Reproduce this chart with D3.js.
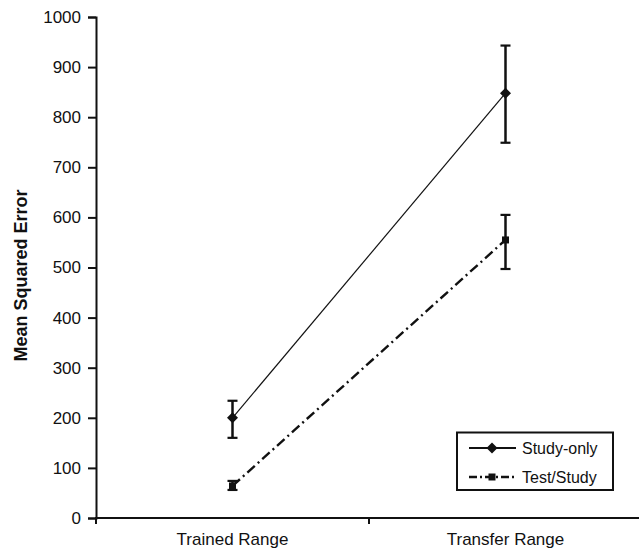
<!DOCTYPE html>
<html>
<head>
<meta charset="utf-8">
<script src="https://cdn.jsdelivr.net/npm/d3@7"></script>
<style>
  html, body { margin: 0; padding: 0; background: #fff; }
  svg { display: block; font-family: "Liberation Sans", Arial, sans-serif; }
</style>
</head>
<body>
<svg id="chart" width="639" height="549"></svg>
<script>
const categories = ["Trained Range", "Transfer Range"];
const seriesNames = ["Study-only", "Test/Study"];
const studyOnlyMean = [200, 848];
const studyOnlyLow = [160, 749];
const studyOnlyHigh = [234, 943];
const testStudyMean = [64, 555];
const testStudyLow = [56, 497];
const testStudyHigh = [74, 605];
const yTicks = [0, 100, 200, 300, 400, 500, 600, 700, 800, 900, 1000];

const series = [
  { name: seriesNames[0], mean: studyOnlyMean, low: studyOnlyLow, high: studyOnlyHigh,
    width: 1.2, dash: null, marker: "diamond" },
  { name: seriesNames[1], mean: testStudyMean, low: testStudyLow, high: testStudyHigh,
    width: 2.4, dash: "10,4,2,4", marker: "square" }
];

const svg = d3.select("#chart");
const x0 = 96, xEnd = 642, yTop = 17, yBottom = 518;

const x = d3.scaleBand().domain(categories).range([x0, xEnd]).paddingInner(0).paddingOuter(0);
const y = d3.scaleLinear().domain([0, 1000]).range([yBottom, yTop]);
const cx = c => x(c) + x.bandwidth() / 2;

// Y axis
const yAxis = d3.axisLeft(y).tickValues(yTicks).tickSize(8).tickPadding(7).tickFormat(d3.format("d"));
const gy = svg.append("g").attr("transform", `translate(${x0},0)`).call(yAxis);
gy.select(".domain").attr("stroke", "#111").attr("stroke-width", 2);
gy.selectAll(".tick line").attr("stroke", "#111").attr("stroke-width", 2);
gy.selectAll(".tick text").attr("font-size", 17).attr("fill", "#111")
  .attr("font-family", "'Liberation Sans', Arial, sans-serif");

// X axis (ticks at band boundaries)
const gx = svg.append("g").attr("transform", `translate(0,${yBottom})`);
gx.append("line").attr("x1", x0 - 1).attr("x2", 639).attr("y1", 0).attr("y2", 0)
  .attr("stroke", "#111").attr("stroke-width", 2);
const boundaries = [x0, x(categories[1])];
gx.selectAll("line.tk").data(boundaries).enter().append("line").attr("class", "tk")
  .attr("x1", d => d).attr("x2", d => d).attr("y1", 0).attr("y2", 6)
  .attr("stroke", "#111").attr("stroke-width", 2);
gx.selectAll("text").data(categories).enter().append("text")
  .attr("x", d => cx(d)).attr("y", 27).attr("text-anchor", "middle")
  .attr("font-size", 17).attr("fill", "#111").text(d => d);

// Y label
svg.append("text")
  .attr("transform", `translate(27,${(yTop + yBottom) / 2 + 8}) rotate(-90)`)
  .attr("text-anchor", "middle").attr("font-size", 18).attr("font-weight", "bold")
  .attr("fill", "#111").text("Mean Squared Error");

function drawMarker(g, type, px, py) {
  if (type === "diamond") {
    const s = 5.5;
    g.append("path").attr("d", `M${px},${py - s}L${px + s},${py}L${px},${py + s}L${px - s},${py}Z`)
      .attr("fill", "#111");
  } else {
    const s = 3.5;
    g.append("rect").attr("x", px - s).attr("y", py - s).attr("width", 2 * s).attr("height", 2 * s)
      .attr("fill", "#111");
  }
}

// Series
series.forEach(s => {
  const g = svg.append("g");
  const line = d3.line().x((d, i) => cx(categories[i])).y(d => y(d));
  g.append("path").datum(s.mean).attr("d", line).attr("fill", "none")
    .attr("stroke", "#111").attr("stroke-width", s.width)
    .attr("stroke-dasharray", s.dash);
  categories.forEach((c, i) => {
    const px = cx(c);
    g.append("line").attr("x1", px).attr("x2", px).attr("y1", y(s.low[i])).attr("y2", y(s.high[i]))
      .attr("stroke", "#111").attr("stroke-width", 2.5);
    [s.low[i], s.high[i]].forEach(v => {
      g.append("line").attr("x1", px - 5).attr("x2", px + 5).attr("y1", y(v)).attr("y2", y(v))
        .attr("stroke", "#111").attr("stroke-width", 2.2);
    });
    drawMarker(g, s.marker, px, y(s.mean[i]));
  });
});

// Legend
const lg = svg.append("g");
lg.append("rect").attr("x", 457).attr("y", 432.5).attr("width", 156).attr("height", 57.5)
  .attr("fill", "#fff").attr("stroke", "#111").attr("stroke-width", 2);
series.forEach((s, i) => {
  const ly = 448 + i * 29;
  lg.append("line").attr("x1", 469).attr("x2", 516).attr("y1", ly).attr("y2", ly)
    .attr("stroke", "#111").attr("stroke-width", i === 0 ? 2 : 2.4)
    .attr("stroke-dasharray", i === 0 ? null : "8,3,2,3");
  drawMarker(lg, s.marker, 492, ly);
  lg.append("text").attr("x", 522).attr("y", ly + 6).attr("font-size", 16).attr("fill", "#111").text(s.name);
});
</script>
</body>
</html>
